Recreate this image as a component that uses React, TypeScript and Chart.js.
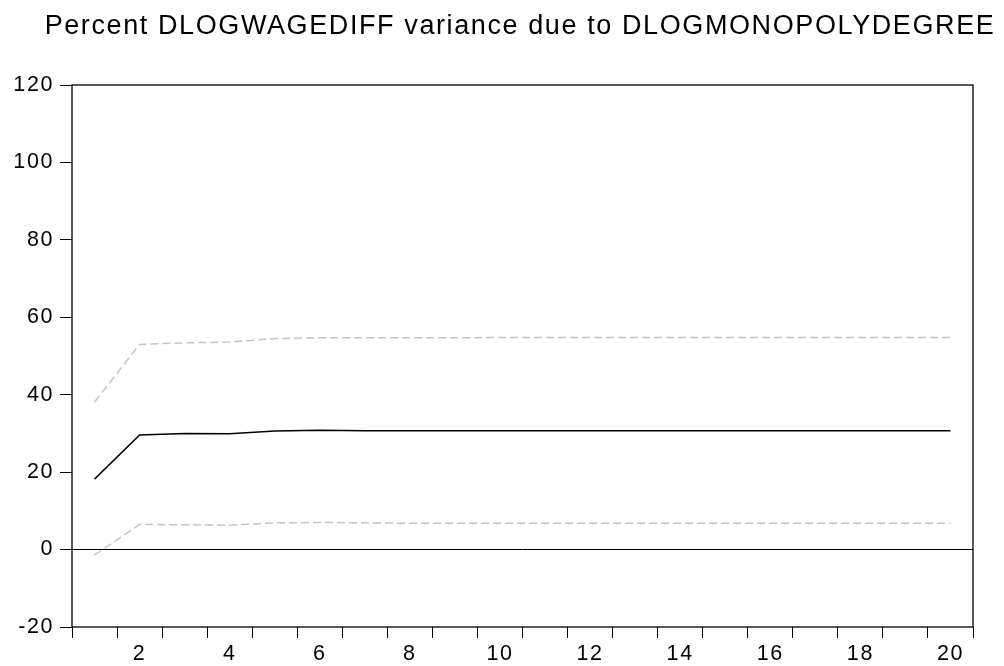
import React, { useEffect, useRef } from "react";
import { Chart, registerables } from "chart.js";

Chart.register(...registerables);

const TITLE = "Percent DLOGWAGEDIFF variance due to DLOGMONOPOLYDEGREE";
const periods = [1, 2, 3, 4, 5, 6, 7, 8, 9, 10, 11, 12, 13, 14, 15, 16, 17, 18, 19, 20];
const variancePct = [18.2, 29.6, 30.0, 29.9, 30.6, 30.8, 30.7, 30.7, 30.7, 30.7, 30.7, 30.7, 30.7, 30.7, 30.7, 30.7, 30.7, 30.7, 30.7, 30.7];
const upperBand = [38.1, 53.0, 53.4, 53.6, 54.5, 54.7, 54.7, 54.7, 54.7, 54.8, 54.8, 54.8, 54.8, 54.8, 54.8, 54.8, 54.8, 54.8, 54.8, 54.8];
const lowerBand = [-1.4, 6.5, 6.4, 6.3, 6.9, 7.0, 6.9, 6.8, 6.8, 6.8, 6.8, 6.8, 6.8, 6.8, 6.8, 6.8, 6.8, 6.8, 6.8, 6.8];
const yMin = -20;
const yMax = 120;
const yStep = 20;

const FONT = 'Arial, "Liberation Sans", sans-serif';
const SPACING = "1.6px";

const spacingPlugin = {
  id: "spacing",
  beforeUpdate(c: any) {
    c.ctx.letterSpacing = SPACING;
  },
  beforeLayout(c: any) {
    c.ctx.letterSpacing = SPACING;
  },
  afterLayout(c: any) {
    const t = c.titleBlock;
    if (t) {
      t.left = 36;
      t.right = c.width;
      t.width = t.right - t.left;
    }
  },
  beforeDraw(c: any) {
    c.ctx.letterSpacing = SPACING;
  },
};

const framePlugin = {
  id: "frame",
  afterDraw(c: any) {
    const { ctx, chartArea } = c;
    ctx.save();
    ctx.strokeStyle = "#000";
    ctx.lineWidth = 1.3;
    ctx.strokeRect(chartArea.left, chartArea.top, chartArea.right - chartArea.left, chartArea.bottom - chartArea.top);
    ctx.restore();
  },
};

export default function App() {
  const ref = useRef<HTMLCanvasElement>(null);

  useEffect(() => {
    if (!ref.current) return;
    const chart = new Chart(ref.current, {
      type: "line",
      data: {
        labels: periods.map(String),
        datasets: [
          {
            data: upperBand,
            borderColor: "#c4c4c4",
            borderWidth: 1.5,
            borderDash: [8, 4],
            pointRadius: 0,
            fill: false,
            tension: 0,
          },
          {
            data: lowerBand,
            borderColor: "#c4c4c4",
            borderWidth: 1.5,
            borderDash: [8, 4],
            pointRadius: 0,
            fill: false,
            tension: 0,
          },
          {
            data: variancePct,
            borderColor: "#000",
            borderWidth: 1.5,
            pointRadius: 0,
            fill: false,
            tension: 0,
          },
        ],
      },
      options: {
        responsive: false,
        animation: false,
        devicePixelRatio: 1,
        layout: { padding: { left: 0, right: 0, top: 0, bottom: 0 } },
        plugins: {
          legend: { display: false },
          tooltip: { enabled: false },
          title: {
            display: true,
            text: TITLE,
            color: "#000",
            fullSize: true,
            font: { family: FONT, size: 27, weight: "normal", lineHeight: 1.2 },
            padding: { top: 10, bottom: 42.6 },
          },
        },
        scales: {
          x: {
            type: "category",
            offset: true,
            border: { display: false },
            grid: {
              offset: true,
              drawOnChartArea: false,
              drawTicks: true,
              tickLength: 11,
              tickColor: "#000",
              tickWidth: 1,
            },
            ticks: {
              color: "#000",
              autoSkip: false,
              maxRotation: 0,
              padding: 3,
              font: { family: FONT, size: 21.5 },
              callback: (_v: any, i: number) => (periods[i] % 2 === 0 ? String(periods[i]) : ""),
            },
            afterFit: (s: any) => {
              s.height = 39;
            },
          },
          y: {
            min: yMin,
            max: yMax,
            border: { display: false },
            grid: {
              drawTicks: true,
              tickLength: 12,
              tickColor: "#000",
              tickWidth: 1,
              lineWidth: 1,
              color: (ctx: any) => (ctx.tick && ctx.tick.value === 0 ? "#000" : "rgba(0,0,0,0)"),
            },
            ticks: {
              stepSize: yStep,
              color: "#000",
              padding: 6,
              font: { family: FONT, size: 21.5 },
            },
            afterFit: (s: any) => {
              s.width = 72;
            },
          },
          yRight: {
            type: "linear",
            position: "right",
            min: yMin,
            max: yMax,
            border: { display: false },
            grid: { display: false, drawTicks: false },
            ticks: { display: false },
            afterFit: (s: any) => {
              s.width = 31;
            },
          },
        },
      },
      plugins: [spacingPlugin, framePlugin],
    });
    return () => chart.destroy();
  }, []);

  return (
    <div style={{ position: "fixed", left: 0, top: 0, width: 1004, height: 666, background: "#fff" }}>
      <canvas ref={ref} width={1004} height={666} style={{ display: "block" }} />
    </div>
  );
}
